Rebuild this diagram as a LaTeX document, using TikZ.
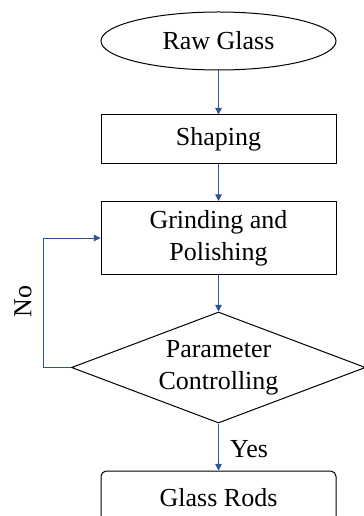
\documentclass[tikz,border=0pt]{standalone}
\usepackage{fontspec}
\setmainfont{Liberation Serif}
\usetikzlibrary{shapes.geometric,arrows.meta}

\definecolor{flowblue}{RGB}{47,84,150}

\tikzset{every picture/.style={line width=0.75pt}}
\tikzset{
  flowtext/.style={font=\fontsize{19.5}{24}\selectfont, align=center, inner sep=0pt},
  flowbox/.style={flowtext, draw, minimum width=176.25pt},
  flowarrow/.style={draw=flowblue, -{Triangle[length=5pt,width=5pt]}}
}

\begin{document}
\begin{tikzpicture}[x=0.75pt,y=0.75pt,yscale=-1,xscale=1]
\useasboundingbox (0,0) rectangle (363,516);

%Shape: Ellipse [id:raw]
\node[flowbox, ellipse, minimum height=43.5pt] (raw) at (218.5,41) {Raw Glass};
%Shape: Rectangle [id:shaping]
\node[flowbox, minimum height=36.75pt] (shaping) at (218.5,139.5) {Shaping};
%Shape: Rectangle [id:grinding]
\node[flowbox, minimum height=54.75pt] (grinding) at (218.5,238) {Grinding and\\Polishing};
%Shape: Diamond [id:check]
\node[flowtext, draw, diamond, aspect=2.65, minimum width=220.5pt, minimum height=83.25pt] (check) at (218.5,367.5) {Parameter\\Controlling};
%Shape: Rounded Rect [id:rods]
\node[flowbox, rounded corners=4pt, minimum height=40.5pt] (rods) at (218.5,498) {Glass Rods};

%Connectors
\draw[flowarrow] (raw) -- (shaping);
\draw[flowarrow] (shaping) -- (grinding);
\draw[flowarrow] (grinding) -- (check);
\draw[flowarrow] (check) -- (rods);
\draw[flowarrow] (check.west) -- ++(-28,0) |- (grinding.west);

% Text Node
\node[flowtext, rotate=90] (no) at (23,301.5) {No};
% Text Node
\node[flowtext] (yes) at (249,449) {Yes};

\end{tikzpicture}
\end{document}
